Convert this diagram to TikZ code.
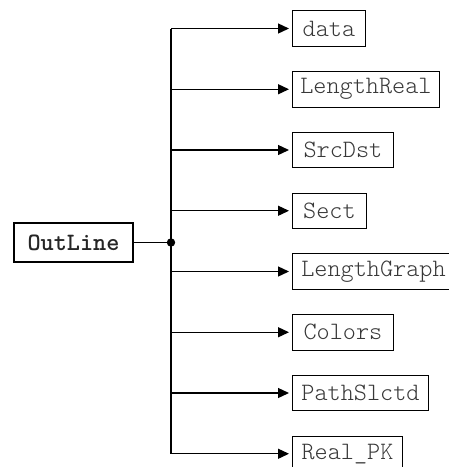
\documentclass[tikz,border=0pt]{standalone}
\usepackage{fontspec}
\newfontfamily\ttlight{Latin Modern Mono Light}
\usetikzlibrary{arrows.meta}
\definecolor{txtgray}{HTML}{383838}
\tikzset{
  leaf/.style={draw=black, line width=0.9pt, anchor=west, minimum height=35.5pt,
    inner sep=0pt, text=txtgray, font=\ttlight\fontsize{25}{28}\selectfont},
  rootbox/.style={draw=black, line width=2.4pt, minimum width=119pt, minimum height=39pt,
    inner sep=0pt, text=black!85, font=\ttlight\bfseries\fontsize{25}{28}\selectfont},
  conn/.style={line width=1.3pt, draw=black},
  branch/.style={conn, -{Triangle[length=11pt,width=10pt]}, shorten >=3pt},
}
\begin{document}
\begin{tikzpicture}[x=1pt,y=-1pt]
  \useasboundingbox (0,0) rectangle (449,467);
  \clip (0,0) rectangle (449,467);
  % root box and junction
  \node[rootbox] (root) at (73.5,242.5) {OutLine};
  \coordinate (j) at (171,242.5);
  % leaf boxes
  \node[leaf, minimum width=73pt]  (data)  at (292,28.5)   {data};
  \node[leaf, minimum width=147pt] (lreal) at (292,89.25)  {LengthReal};
  \node[leaf, minimum width=101pt] (src)   at (292,150)    {SrcDst};
  \node[leaf, minimum width=74pt]  (sect)  at (292,210.75) {Sect};
  \node[leaf, minimum width=162pt] (lgr)   at (292,271.5)  {LengthGraph};
  \node[leaf, minimum width=101pt] (col)   at (292,332.25) {Colors};
  \node[leaf, minimum width=136pt] (path)  at (292,393)    {PathSlctd};
  \node[leaf, minimum width=110pt] (rpk)   at (292,453.75) {Real\_PK};
  % connectors
  \draw[conn] (root.east) -- (j);
  \draw[conn] (j |- data.west) -- (j |- rpk.west);
  \fill (j) circle (4.2pt);
  \foreach \n in {data,lreal,src,sect,lgr,col,path,rpk}
    \draw[branch] (j |- \n.west) -- (\n.west);
\end{tikzpicture}
\end{document}
